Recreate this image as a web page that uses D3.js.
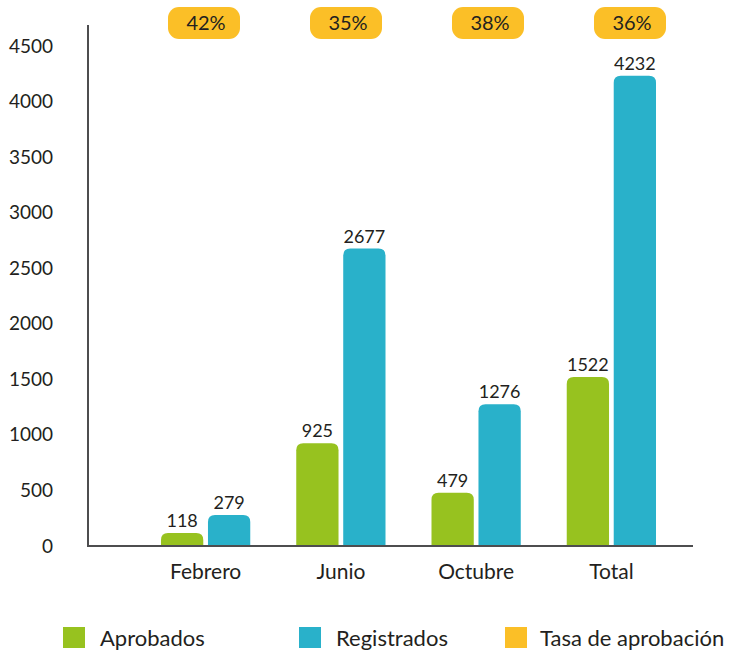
<!DOCTYPE html>
<html>
<head>
<meta charset="utf-8">
<script src="https://cdn.jsdelivr.net/npm/d3@7"></script>
<style>
  body { margin: 0; background: #fff; }
  svg text { font-family: Lato, "Open Sans", sans-serif; fill: #231f20; }
</style>
</head>
<body>
<div id="chart"></div>
<script>
// data
const categories = ["Febrero", "Junio", "Octubre", "Total"];
const aprobados = [118, 925, 479, 1522];
const registrados = [279, 2677, 1276, 4232];
const tasa = ["42%", "35%", "38%", "36%"];
const yTicks = [0, 500, 1000, 1500, 2000, 2500, 3000, 3500, 4000, 4500];
const seriesNames = ["Aprobados", "Registrados"];
const legendLabels = ["Aprobados", "Registrados", "Tasa de aprobación"];

const colors = {Aprobados: "#97c21f", Registrados: "#29b1ca", Tasa: "#fbbf27"};
const legendColors = [colors.Aprobados, colors.Registrados, colors.Tasa];

const width = 729, height = 651;
const axisX = 88, axisRight = 693;

const svg = d3.select("#chart").append("svg")
    .attr("width", width)
    .attr("height", height);

let y = d3.scaleLinear().domain([0, 4500]).range([546, 46]);

let x = d3.scaleBand().domain(categories)
    .range([138, 679])
    .paddingInner(0.34)
    .paddingOuter(0.17);

let xInner = d3.scaleBand().domain(seriesNames)
    .range([0, x.bandwidth()])
    .paddingInner(0.1);

// badges sit a bit off the groups in the original
let xBadge = d3.scalePoint().domain(categories).range([204, 630]);

// y axis labels
const yAxis = svg.append("g")
    .attr("transform", "translate(" + axisX + ",0)")
    .call(d3.axisLeft(y).tickValues(yTicks).tickFormat(d3.format("d")).tickSize(0).tickPadding(35));
yAxis.select(".domain").remove();
yAxis.selectAll("text").attr("font-size", 19).style("font-family", "Lato, sans-serif").attr("fill", "#231f20");

// x axis labels
const xAxis = svg.append("g")
    .attr("transform", "translate(0," + y(0) + ")")
    .call(d3.axisBottom(x).tickSize(0).tickPadding(18));
xAxis.select(".domain").remove();
xAxis.selectAll("text").attr("font-size", 21).style("font-family", "Lato, sans-serif").attr("fill", "#231f20");

// bars
function roundTopPath(x0, y0, w, h, r) {
    r = Math.min(r, h, w / 2);
    return "M" + x0 + "," + (y0 + h) +
        "V" + (y0 + r) +
        "Q" + x0 + "," + y0 + " " + (x0 + r) + "," + y0 +
        "H" + (x0 + w - r) +
        "Q" + (x0 + w) + "," + y0 + " " + (x0 + w) + "," + (y0 + r) +
        "V" + (y0 + h) + "Z";
}

const rows = categories.map(function (c, i) {
    return {cat: c, values: [
        {key: "Aprobados", v: aprobados[i]},
        {key: "Registrados", v: registrados[i]}
    ]};
});

const groups = svg.selectAll(".group")
    .data(rows)
    .enter().append("g")
    .attr("class", "group")
    .attr("transform", d => "translate(" + x(d.cat) + ",0)");

groups.selectAll("path")
    .data(d => d.values)
    .enter().append("path")
    .attr("fill", d => colors[d.key])
    .attr("d", d => roundTopPath(xInner(d.key), y(d.v), xInner.bandwidth(), y(0) - y(d.v), 7));

groups.selectAll("text.val")
    .data(d => d.values)
    .enter().append("text")
    .attr("class", "val")
    .attr("x", d => xInner(d.key) + xInner.bandwidth() / 2)
    .attr("y", d => y(d.v) - 6)
    .attr("text-anchor", "middle")
    .attr("font-size", 18)
    .text(d => d.v);

// axis lines
svg.append("line")
    .attr("x1", axisX).attr("x2", axisX)
    .attr("y1", y(4500) - 21).attr("y2", y(0) + 1)
    .attr("stroke", "#4d4d4f").attr("stroke-width", 2);
svg.append("line")
    .attr("x1", axisX - 1).attr("x2", axisRight)
    .attr("y1", y(0)).attr("y2", y(0))
    .attr("stroke", "#4d4d4f").attr("stroke-width", 2);

// rate badges
const badges = svg.selectAll(".badge")
    .data(categories)
    .enter().append("g")
    .attr("class", "badge")
    .attr("transform", d => "translate(" + xBadge(d) + ",23)");

badges.append("rect")
    .attr("x", -36).attr("y", -16)
    .attr("width", 72).attr("height", 32)
    .attr("rx", 11)
    .attr("fill", colors.Tasa);

badges.append("text")
    .attr("x", 2)
    .attr("dy", "0.36em")
    .attr("text-anchor", "middle")
    .attr("font-size", 20)
    .text((d, i) => tasa[i]);

// legend
const legendX = [63, 299, 505];
const legend = svg.selectAll(".legend")
    .data(legendLabels)
    .enter().append("g")
    .attr("class", "legend")
    .attr("transform", (d, i) => "translate(" + legendX[i] + ",627)");

legend.append("rect")
    .attr("width", 22).attr("height", 21)
    .attr("fill", (d, i) => legendColors[i]);

legend.append("text")
    .attr("x", (d, i) => i === 2 ? 35 : 37)
    .attr("y", 11)
    .attr("dy", "0.36em")
    .attr("font-size", 22)
    .text(d => d);
</script>
</body>
</html>
